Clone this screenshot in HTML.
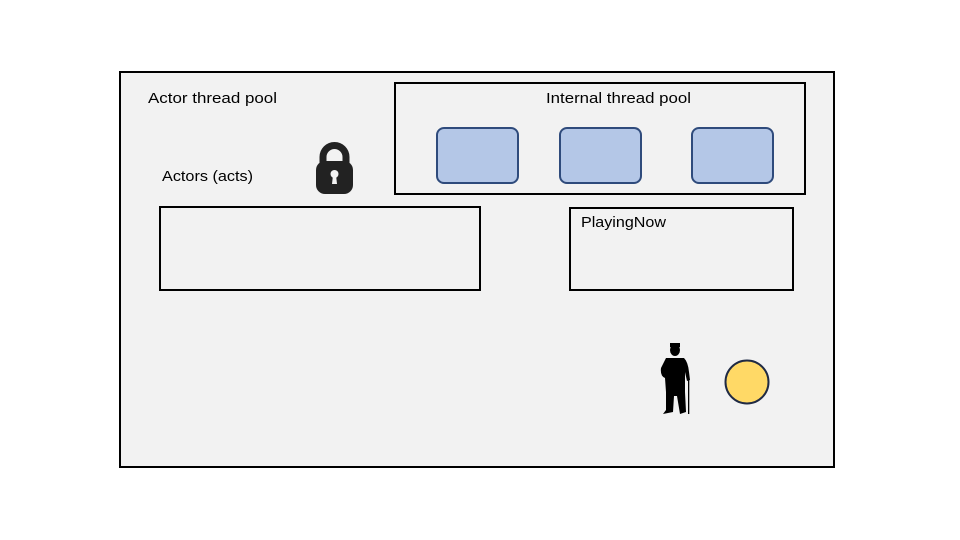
<!DOCTYPE html>
<html><head><meta charset="utf-8"><style>
html,body{margin:0;padding:0;background:#fff;width:960px;height:540px;overflow:hidden}
svg text{font-family:"Liberation Sans",sans-serif;font-size:15px;fill:#000}
</style></head><body>
<svg width="960" height="540" viewBox="0 0 960 540" xmlns="http://www.w3.org/2000/svg">
<rect x="120" y="72" width="714" height="395" fill="#f2f2f2" stroke="#000" stroke-width="2"/>
<text x="148" y="103" textLength="129" lengthAdjust="spacingAndGlyphs">Actor thread pool</text>
<rect x="395" y="83" width="410" height="111" fill="none" stroke="#000" stroke-width="2"/>
<text x="546" y="103" textLength="145" lengthAdjust="spacingAndGlyphs">Internal thread pool</text>
<rect x="437" y="128" width="81" height="55" rx="7" fill="#b4c7e7" stroke="#2f4b7c" stroke-width="2"/>
<rect x="560" y="128" width="81" height="55" rx="7" fill="#b4c7e7" stroke="#2f4b7c" stroke-width="2"/>
<rect x="692" y="128" width="81" height="55" rx="7" fill="#b4c7e7" stroke="#2f4b7c" stroke-width="2"/>
<text x="162" y="181" textLength="91" lengthAdjust="spacingAndGlyphs">Actors (acts)</text>
<!-- lock -->
<path d="M323 166 V157 A11.5 11.5 0 0 1 346 157 V166" fill="none" stroke="#222" stroke-width="7"/>
<rect x="316" y="161" width="37" height="33" rx="9" fill="#222"/>
<circle cx="334.5" cy="174" r="4" fill="#f2f2f2"/>
<path d="M333 175 L332 184 H337 L336 175 Z" fill="#f2f2f2"/>
<rect x="160" y="207" width="320" height="83" fill="none" stroke="#000" stroke-width="2"/>
<rect x="570" y="208" width="223" height="82" fill="none" stroke="#000" stroke-width="2"/>
<text x="581" y="227" textLength="85" lengthAdjust="spacingAndGlyphs">PlayingNow</text>
<!-- figure -->
<g fill="#000">
<ellipse cx="675" cy="350" rx="5" ry="6"/>
<rect x="670" y="343" width="10" height="4"/>
<path d="M666 358 H684 Q688 362 689 372 L690 380 L687 381 L685 372 L685 392 L686 412 L680 414 L677 396 L674 396 L673 412 L663 414 L666 410 L666 392 L665 378 Q660 376 661 368 Z"/>
<rect x="688" y="380" width="1.3" height="34"/>
</g>
<circle cx="747" cy="382" r="21.5" fill="#ffd966" stroke="#1f2a44" stroke-width="2"/>
</svg>
</body></html>
